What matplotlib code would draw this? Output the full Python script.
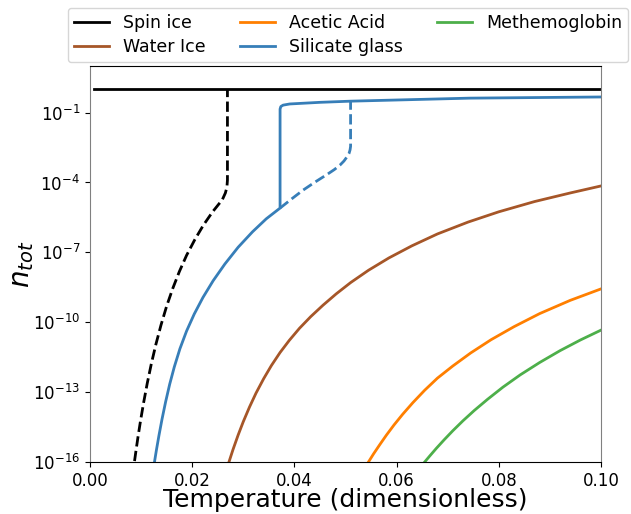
import numpy as np
import matplotlib
matplotlib.use("Agg")
import matplotlib.pyplot as plt

# values (T, log10 n)
spin_T = [0.00075, 0.1]
spin_logn = [0.0, 0.0]

spin_dash_T = [0.00872, 0.0090, 0.0094, 0.0099, 0.0105, 0.0112, 0.0120, 0.0129,
               0.0139, 0.0150, 0.0162, 0.0175, 0.0189, 0.0205, 0.0222, 0.0240,
               0.0259, 0.0265, 0.0268, 0.0269, 0.0269]
spin_dash_logn = [-15.96, -15.52, -14.92, -14.22, -13.45, -12.63, -11.79, -10.95,
                  -10.12, -9.31, -8.55, -7.82, -7.13, -6.46, -5.83, -5.26,
                  -4.74, -4.45, -4.2, -3.9, 0.0]

glass_T = [0.01263, 0.0130, 0.0135, 0.0141, 0.0148, 0.0156, 0.0165, 0.0176,
           0.0189, 0.0204, 0.0221, 0.0241, 0.0264, 0.0290, 0.0318, 0.0345,
           0.0372, 0.0372, 0.03735, 0.0378, 0.0391, 0.045, 0.051, 0.06,
           0.0743, 0.1]
glass_logn = [-15.99, -15.49, -14.86, -14.16, -13.42, -12.66, -11.92, -11.14,
              -10.38, -9.65, -8.94, -8.22, -7.50, -6.78, -6.12, -5.56,
              -5.10, -0.85, -0.74, -0.68, -0.63, -0.56, -0.51, -0.46,
              -0.38, -0.33]

glass_dash_T = [0.0372, 0.0395, 0.0417, 0.0440, 0.0463, 0.0478, 0.0489, 0.0497,
                0.0503, 0.0507, 0.0509, 0.0510, 0.0510]
glass_dash_logn = [-5.10, -4.70, -4.33, -3.99, -3.67, -3.45, -3.26, -3.08,
                   -2.90, -2.75, -2.60, -2.45, -0.51]

water_T = [0.0272, 0.0280, 0.0290, 0.0300, 0.0312, 0.0325, 0.0340, 0.0355,
           0.0372, 0.0390, 0.0410, 0.0432, 0.0456, 0.0482, 0.0510, 0.0545,
           0.0585, 0.0630, 0.0680, 0.0740, 0.0800, 0.0870, 0.0940, 0.1]
water_logn = [-16.00, -15.46, -14.84, -14.27, -13.65, -13.04, -12.42, -11.86,
              -11.30, -10.78, -10.26, -9.76, -9.27, -8.78, -8.30, -7.77,
              -7.24, -6.72, -6.21, -5.70, -5.26, -4.82, -4.45, -4.15]

acetic_T = [0.0545, 0.0555, 0.0567, 0.0580, 0.0595, 0.0612, 0.0632, 0.0655,
            0.0680, 0.0710, 0.0745, 0.0785, 0.0830, 0.0880, 0.0940, 0.1]
acetic_logn = [-16.00, -15.65, -15.26, -14.85, -14.41, -13.95, -13.45, -12.92,
               -12.40, -11.88, -11.32, -10.75, -10.19, -9.63, -9.06, -8.57]

methem_T = [0.0655, 0.0665, 0.0678, 0.0693, 0.0710, 0.0730, 0.0752, 0.0778,
            0.0808, 0.0842, 0.0880, 0.0920, 0.0960, 0.1]
methem_logn = [-16.00, -15.74, -15.41, -15.05, -14.66, -14.23, -13.79, -13.31,
               -12.79, -12.26, -11.73, -11.22, -10.76, -10.34]

c_black = "black"
c_brown = "#a65628"
c_orange = "#ff7f00"
c_blue = "#377eb8"
c_green = "#4daf4a"

fig = plt.figure(figsize=(6.31, 5.14), dpi=100)
ax = fig.add_axes([0.1426, 0.1012, 0.8098, 0.7704])

lw = 2.0
ax.plot(spin_T, 10.0 ** np.array(spin_logn), color=c_black, lw=lw, label="Spin ice")
ax.plot(water_T, 10.0 ** np.array(water_logn), color=c_brown, lw=lw, label="Water Ice")
ax.plot(acetic_T, 10.0 ** np.array(acetic_logn), color=c_orange, lw=lw, label="Acetic Acid")
ax.plot(glass_T, 10.0 ** np.array(glass_logn), color=c_blue, lw=lw, label="Silicate glass")
ax.plot(methem_T, 10.0 ** np.array(methem_logn), color=c_green, lw=lw, label="Methemoglobin")
ax.plot(spin_dash_T, 10.0 ** np.array(spin_dash_logn), color=c_black, lw=lw, ls="--")
ax.plot(glass_dash_T, 10.0 ** np.array(glass_dash_logn), color=c_blue, lw=lw, ls="--")

ax.set_yscale("log")
ax.set_xlim(0, 0.1)
ax.set_ylim(1e-16, 10)
ax.set_yticks([1e-16, 1e-13, 1e-10, 1e-7, 1e-4, 1e-1])
ax.yaxis.set_minor_locator(matplotlib.ticker.NullLocator())
ax.set_xticks([0.0, 0.02, 0.04, 0.06, 0.08, 0.10])
ax.tick_params(labelsize=12)

ax.spines["left"].set_color("0.5")
ax.spines["right"].set_color("0.5")

ax.set_xlabel("Temperature (dimensionless)", fontsize=18, labelpad=-1)
ax.set_ylabel(r"$n_{tot}$", fontsize=20, labelpad=-2)

ax.legend(loc="lower center", bbox_to_anchor=(0.505, 1.01), ncol=3, fontsize=12.5,
          borderaxespad=0.0, labelspacing=0.35, borderpad=0.35)

fig.savefig("out.png", dpi=100)
